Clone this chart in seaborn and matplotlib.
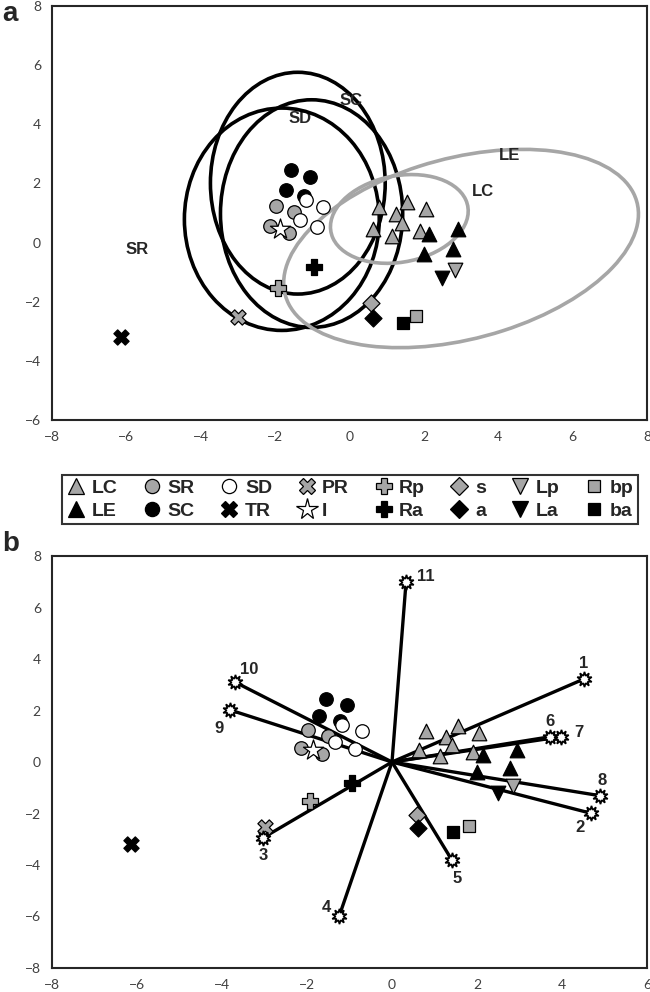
import matplotlib
matplotlib.use("Agg")
import matplotlib.pyplot as plt
from matplotlib.lines import Line2D
from matplotlib.patches import Ellipse
import seaborn as sns

# --- scores (same points in both panels) ---
LC_X = [0.80, 1.55, 2.05, 1.26, 1.41, 0.63, 1.14, 1.90]
LC_Y = [1.20, 1.38, 1.12, 0.96, 0.67, 0.47, 0.23, 0.40]
LE_X = [2.15, 2.93, 2.01, 2.77]
LE_Y = [0.29, 0.47, -0.40, -0.22]
SR_X = [-1.98, -1.50, -2.14, -1.64]
SR_Y = [1.25, 1.02, 0.56, 0.31]
SC_X = [-1.56, -1.07, -1.72, -1.22]
SC_Y = [2.45, 2.23, 1.78, 1.58]
SD_X = [-1.18, -0.71, -1.33, -0.87]
SD_Y = [1.44, 1.20, 0.77, 0.52]
PR_X, PR_Y = [-3.00], [-2.53]
TR_X, TR_Y = [-6.15], [-3.18]
I_X, I_Y = [-1.86], [0.46]
RP_X, RP_Y = [-1.92], [-1.52]
RA_X, RA_Y = [-0.95], [-0.82]
S_X, S_Y = [0.58], [-2.04]
A_X, A_Y = [0.62], [-2.56]
LP_X, LP_Y = [2.85], [-0.93]
LA_X, LA_Y = [2.50], [-1.20]
BP_X, BP_Y = [1.80], [-2.48]
BA_X, BA_Y = [1.44], [-2.72]

# --- ellipses in panel a: centre, semi axes, angle (deg) ---
ELL_NAMES = ["SC", "SD", "SR", "LC", "LE"]
ELL_CX = [-1.39, -1.02, -1.82, 1.34, 3.00]
ELL_CY = [2.01, 0.98, 0.79, 0.80, -0.20]
ELL_A = [2.35, 2.45, 2.62, 1.90, 5.00]
ELL_B = [3.75, 3.85, 3.76, 1.44, 3.00]
ELL_ANG = [0, 0, 0, 20, 22]
ELL_LAB_X = [0.05, -1.33, -5.70, 3.60, 4.30]
ELL_LAB_Y = [4.80, 4.20, -0.25, 1.72, 2.95]

# --- loading vectors in panel b ---
VEC_LABELS = ["1", "2", "3", "4", "5", "6", "7", "8", "9", "10", "11"]
VEC_X = [4.51, 4.68, -3.03, -1.24, 1.41, 3.72, 3.98, 4.90, -3.81, -3.69, 0.33]
VEC_Y = [3.22, -1.99, -2.94, -5.97, -3.81, 0.98, 0.98, -1.31, 2.02, 3.10, 6.98]
VEC_OFF = [(0, 11), (-8, -10), (0, -13), (-9, 6), (4, -13), (0, 11),
           (13, 3), (1, 11), (-8, -13), (10, 9), (14, 4)]

GREY = "#a6a6a6"
groups = [
    ("LC", LC_X, LC_Y, "^", GREY), ("LE", LE_X, LE_Y, "^", "black"),
    ("SR", SR_X, SR_Y, "o", GREY), ("SC", SC_X, SC_Y, "o", "black"),
    ("SD", SD_X, SD_Y, "o", "white"), ("TR", TR_X, TR_Y, "X", "black"),
    ("PR", PR_X, PR_Y, "X", GREY), ("I", I_X, I_Y, "*", "white"),
    ("Rp", RP_X, RP_Y, "P", GREY), ("Ra", RA_X, RA_Y, "P", "black"),
    ("s", S_X, S_Y, "D", GREY), ("a", A_X, A_Y, "D", "black"),
    ("Lp", LP_X, LP_Y, "v", GREY), ("La", LA_X, LA_Y, "v", "black"),
    ("bp", BP_X, BP_Y, "s", GREY), ("ba", BA_X, BA_Y, "s", "black"),
]
SIZES = {"^": 110, "v": 110, "o": 95, "X": 120, "*": 230, "P": 130, "D": 75, "s": 70}

sns.set_theme(style="white")
plt.rcParams["font.family"] = ["Liberation Sans", "DejaVu Sans"]

fig = plt.figure(figsize=(6.5, 9.92), dpi=100)
ax_a = fig.add_axes([0.08, 0.5766, 0.9154, 0.4173])
ax_b = fig.add_axes([0.08, 0.0242, 0.9154, 0.4153])


def draw_points(ax):
    for name, xs, ys, mk, col in groups:
        sns.scatterplot(x=xs, y=ys, marker=mk, color=col, edgecolor="black",
                        linewidth=0.9, s=SIZES[mk], ax=ax, zorder=5, legend=False)


def style_axes(ax, xlim, ylim, step):
    ax.set_xlim(*xlim)
    ax.set_ylim(*ylim)
    ax.set_xticks(range(xlim[0], xlim[1] + 1, step))
    ax.set_yticks(range(ylim[0], ylim[1] + 1, step))
    ax.tick_params(length=0, labelsize=10, labelcolor="#404040", pad=8)
    for lab in ax.get_xticklabels() + ax.get_yticklabels():
        lab.set_family("Lato")
    for sp in ax.spines.values():
        sp.set_color("#262626")
        sp.set_linewidth(1.5)
        sp.set_visible(True)


# panel a
for i, nm in enumerate(ELL_NAMES):
    col = GREY if nm in ("LC", "LE") else "black"
    ax_a.add_patch(Ellipse((ELL_CX[i], ELL_CY[i]), 2 * ELL_A[i], 2 * ELL_B[i],
                           angle=ELL_ANG[i], fill=False, edgecolor=col, lw=2.6, zorder=3))
    ax_a.text(ELL_LAB_X[i], ELL_LAB_Y[i], nm, fontsize=12, fontweight="bold",
              ha="center", va="center")
draw_points(ax_a)
style_axes(ax_a, (-8, 8), (-6, 8), 2)

# panel b
for i, lab in enumerate(VEC_LABELS):
    ax_b.plot([0, VEC_X[i]], [0, VEC_Y[i]], color="black", lw=2.4, zorder=2)
    ax_b.plot(VEC_X[i], VEC_Y[i], marker=(10, 1, 0), ms=11, mfc="white",
              mec="black", mew=1.2, zorder=6)
    ax_b.annotate(lab, (VEC_X[i], VEC_Y[i]), xytext=VEC_OFF[i], textcoords="offset points",
                  fontsize=12, fontweight="bold", ha="center", va="center")
draw_points(ax_b)
style_axes(ax_b, (-8, 6), (-8, 8), 2)

fig.text(0.003, 0.986, "a", fontsize=20, fontweight="bold", va="center")
fig.text(0.003, 0.452, "b", fontsize=20, fontweight="bold", va="center")

handles = [Line2D([], [], ls="none", marker=mk, mfc=col, mec="black", mew=0.9,
                  ms=(SIZES[mk] ** 0.5) * 1.05) for _, _, _, mk, col in groups]
labels = [g[0] for g in groups]
leg = fig.legend(handles, labels, loc="center", ncol=8, mode="expand",
                 bbox_to_anchor=(0.08, 0.4698, 0.917, 0.0534), frameon=True, fancybox=False,
                 edgecolor="black", prop={"weight": "bold", "size": 14}, handletextpad=0.3,
                 columnspacing=0.5, handlelength=1.0, labelspacing=0.25, borderpad=0.25)
leg.get_frame().set_linewidth(1.5)

fig.savefig("out.png", dpi=100)
